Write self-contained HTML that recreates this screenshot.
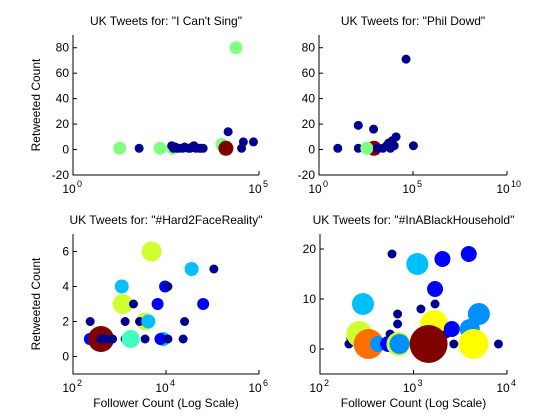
<!DOCTYPE html>
<html><head><meta charset="utf-8">
<style>
body{margin:0;background:#fff;}
svg{display:block;font-family:"Liberation Sans",Arial,sans-serif;}
</style></head>
<body>
<svg id="fig" width="560" height="420" viewBox="0 0 560 420"></svg>
<script>
// ---- Data: top-left "I Can't Sing" ----
const tlX=[18,60,220,480,450,500,560,630,710,890,1000,1260,1410,1580,1780,2000,2510,2820,3160,14800,10000,34000,38000,71000,24000,12900];
const tlY=[1,1,1,1,3,1,2,1,1,1,2,1,1,2,3,1,1,1,1,14,4,1,6,6,80,1];
const tlR=[6.5,4.5,6.5,6.5,4.5,4.5,4.5,4.5,4.5,4.5,4.5,4.5,4.5,4.5,4.5,4.5,4.5,4.5,4.5,4.5,6.5,4.5,4.5,4.5,6.5,7.5];
const tlC=["lg","nv","lg","lg","nv","nv","nv","nv","nv","nv","nv","nv","nv","nv","nv","nv","nv","nv","nv","nv","lg","nv","nv","nv","lg","dr"];
// ---- top-right "Phil Dowd" ----
const trX=[10,123,123,800,850,350,1260,2500,4000,5000,6300,7900,10000,12600,42700,105000];
const trY=[1,19,1,16,1,1,1,1,3,5,1,7,3,10,71,3];
const trR=[4.5,4.5,4.5,4.5,7.5,6.5,4.5,4.5,4.5,4.5,4.5,4.5,4.5,4.5,4.5,4.5];
const trC=["nv","nv","nv","nv","dr","lg","nv","nv","nv","nv","nv","nv","nv","nv","nv","nv"];
// ---- bottom-left "#Hard2FaceReality" ----
const blX=[234,230,400,1120,1170,1320,1320,1740,2000,3550,2700,4900,4170,3550,6600,8700,7600,9550,11000,11000,23400,25100,35500,63000,107000,400,500,710];
const blY=[2,1,1,4,3,2,1,1,3,2,2,6,2,1,3,1,1,4,4,1,1,2,5,3,5,1,1,1];
const blR=[4.5,6,13,7,10,4.5,4.5,9,4.5,9,4.5,10,7,4.5,6,7,6,6,4.5,4.5,4.5,4.5,7,6,4.5,4.5,4.5,4.5];
const blC=["nv","bl","dr","cy","yg","nv","nv","aq","nv","yg","nv","yg","cy","nv","bl","cy","bl","bl","nv","nv","nv","nv","cy","bl","nv","nv","nv","nv"];
// ---- bottom-right "#nABlackHousehold" ----
const brX=[204,214,263,288,407,331,417,537,562,589,676,676,690,708,1100,1200,1660,1700,1700,2040,2240,2570,2700,4000,5000,3900,4370,8100,1450];
const brY=[1,2,3,9,1,1,1,1,3,19,7,5,1,1,17,8,5,12,9,18,3,4,1,4,7,19,1,1,1];
const brR=[4.5,4.5,13,11,8,15,8,8,4.5,4.5,4.5,4.5,12,10,11,4.5,14,8,4.5,8,4.5,8,4.5,10,11,8,15,4.5,19];
const brC=["nv","nv","yg","cy","az","or","az","bl","nv","nv","nv","nv","yg","az","cy","nv","ye","bl","nv","bl","nv","bl","nv","az","az","bl","ye","nv","dr"];

const COL={nv:"#00008f",bl:"#0000ff",az:"#0090ff",cy:"#00bfff",aq:"#40ffbf",lg:"#80ff80",yg:"#cfff30",ye:"#ffff00",or:"#ff7000",dr:"#800000"};
const NS="http://www.w3.org/2000/svg";
const fig=document.getElementById("fig");
function mk(tag,attrs,parent){const e=document.createElementNS(NS,tag);for(const k in attrs)e.setAttribute(k,attrs[k]);(parent||fig).appendChild(e);return e;}

function panel(cfg){
  const g=mk("g",{});
  
  
  const sx=v=>cfg.x0+(Math.log10(v)-cfg.lx0)/(cfg.lx1-cfg.lx0)*(cfg.x1-cfg.x0);
  const sy=v=>cfg.y1-(v-cfg.ymin)/(cfg.ymax-cfg.ymin)*(cfg.y1-cfg.y0);
  for(let i=0;i<cfg.X.length;i++){
    const c=mk("circle",{cx:sx(cfg.X[i]),cy:sy(cfg.Y[i]),r:cfg.R[i],fill:COL[cfg.C[i]]},g);
    
    
  }
  const ax=mk("path",{d:`M${cfg.x0},${cfg.y0}V${cfg.y1}H${cfg.x1}`,stroke:"#000","stroke-width":1,fill:"none"},g);
  
  
  cfg.yt.forEach(v=>{
    const y=sy(v);
    mk("line",{x1:cfg.x0,x2:cfg.x0+4,y1:y,y2:y,stroke:"#000"},g);
    const t=mk("text",{x:cfg.x0-4,y:y+4,"text-anchor":"end","font-size":12},g);
    t.textContent=v;
    
    
  });
  cfg.xt.forEach((e,i)=>{
    const x=sx(Math.pow(10,e));
    mk("line",{x1:x,x2:x,y1:cfg.y1,y2:cfg.y1-4,stroke:"#000"},g);
    if(cfg.xl.indexOf(e)>=0){
      const t=mk("text",{x:x-4,y:cfg.y1+18,"text-anchor":"middle","font-size":12},g);
      t.textContent="10";
      
      
      const s=mk("text",{x:x+4,y:cfg.y1+12,"text-anchor":"start","font-size":9},g);
      s.textContent=String(e);
      
      
    }
  });
  const ti=mk("text",{x:(cfg.x0+cfg.x1)/2,y:cfg.y0-10,"text-anchor":"middle","font-size":12},g);
  ti.textContent=cfg.title;
  
  
  if(cfg.ylab){
    const yl=mk("text",{x:0,y:0,"text-anchor":"middle","font-size":12,transform:`translate(40,${(cfg.y0+cfg.y1)/2}) rotate(-90)`},g);
    yl.textContent="Retweeted Count";
    
    
  }
  if(cfg.xlab){
    const xl=mk("text",{x:(cfg.x0+cfg.x1)/2,y:cfg.y1+33,"text-anchor":"middle","font-size":12},g);
    xl.textContent="Follower Count (Log Scale)";
    
    
  }
}
panel({name:"panel-i-cant-sing",X:tlX,Y:tlY,R:tlR,C:tlC,x0:73,x1:259,y0:35,y1:175,lx0:0,lx1:5,ymin:-20,ymax:90,yt:[-20,0,20,40,60,80],xt:[0,5],xl:[0,5],title:"UK Tweets for: \"I Can't Sing\"",ylab:true});
panel({name:"panel-phil-dowd",X:trX,Y:trY,R:trR,C:trC,x0:319,x1:507,y0:35,y1:175,lx0:0,lx1:10,ymin:-20,ymax:90,yt:[-20,0,20,40,60,80],xt:[0,5,10],xl:[0,5,10],title:"UK Tweets for: \"Phil Dowd\""});
panel({name:"panel-hard2facereality",X:blX,Y:blY,R:blR,C:blC,x0:73,x1:259,y0:234,y1:374,lx0:2,lx1:6,ymin:-1,ymax:7,yt:[0,2,4,6],xt:[2,4,6],xl:[2,4,6],title:"UK Tweets for: \"#Hard2FaceReality\"",ylab:true,xlab:true});
panel({name:"panel-inablackhousehold",X:brX,Y:brY,R:brR,C:brC,x0:320,x1:507,y0:234,y1:374,lx0:2,lx1:4,ymin:-5,ymax:23,yt:[0,10,20],xt:[2,3,4],xl:[2,3,4],title:"UK Tweets for: \"#InABlackHousehold\"",xlab:true});
</script>
</body></html>
